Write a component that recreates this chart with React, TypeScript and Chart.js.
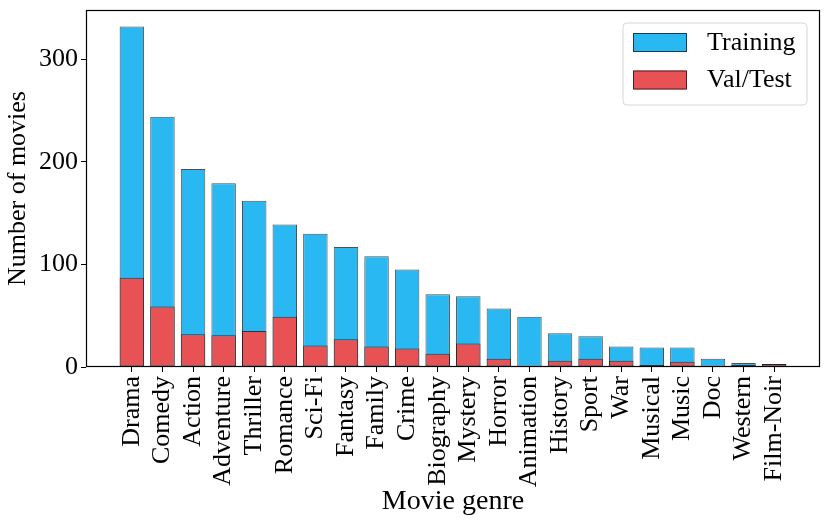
import React, { useEffect, useRef } from "react";
import { Chart, registerables } from "chart.js";

Chart.register(...registerables);

const genres = [
  "Drama", "Comedy", "Action", "Adventure", "Thriller", "Romance", "Sci-Fi",
  "Fantasy", "Family", "Crime", "Biography", "Mystery", "Horror", "Animation",
  "History", "Sport", "War", "Musical", "Music", "Doc", "Western", "Film-Noir",
];
const trainingCounts = [332, 244, 193, 179, 162, 139, 130, 117, 108, 95, 71, 69, 57, 49, 33, 30, 20, 19, 19, 8, 4, 3];
const valTestCounts = [87, 59, 32, 31, 35, 49, 21, 27, 20, 18, 13, 23, 8, 1, 6, 8, 6, 2, 5, 1, 2, 3];
const yTickValues = [0, 100, 200, 300];
const seriesLabels = ["Training", "Val/Test"];

const FONT = "'Liberation Serif', 'Times New Roman', serif";
const BLUE = "#29B8F2";
const RED = "#E85254";
const EDGE = "rgba(20,20,20,0.75)";

const framePlugin = {
  id: "frame",
  afterDatasetsDraw(chart: any) {
    const { ctx, chartArea } = chart;
    ctx.save();
    ctx.strokeStyle = "#000";
    ctx.lineWidth = 1.2;
    ctx.strokeRect(
      Math.round(chartArea.left) + 0.5,
      Math.round(chartArea.top) + 0.5,
      Math.round(chartArea.right - chartArea.left) - 1,
      Math.round(chartArea.bottom - chartArea.top) - 1
    );
    ctx.restore();
  },
};

const legendPlugin = {
  id: "boxLegend",
  afterDraw(chart: any) {
    const { ctx, chartArea } = chart;
    const w = 184, h = 82;
    const x = chartArea.right - 13 - w;
    const y = chartArea.top + 13;
    ctx.save();
    const r = 4;
    ctx.beginPath();
    ctx.moveTo(x + r, y);
    ctx.arcTo(x + w, y, x + w, y + h, r);
    ctx.arcTo(x + w, y + h, x, y + h, r);
    ctx.arcTo(x, y + h, x, y, r);
    ctx.arcTo(x, y, x + w, y, r);
    ctx.closePath();
    ctx.fillStyle = "rgba(255,255,255,0.8)";
    ctx.fill();
    ctx.strokeStyle = "#d6d6d6";
    ctx.lineWidth = 1;
    ctx.stroke();
    chart.data.datasets.forEach((ds: any, i: number) => {
      const sy = y + 10 + i * 37.5;
      ctx.fillStyle = ds.backgroundColor;
      ctx.fillRect(x + 10, sy, 54, 19);
      ctx.strokeStyle = EDGE;
      ctx.strokeRect(x + 10.5, sy + 0.5, 53, 18);
      ctx.fillStyle = "#000";
      ctx.font = `26px ${FONT}`;
      ctx.textBaseline = "middle";
      ctx.textAlign = "left";
      ctx.fillText(ds.label, x + 84, sy + 10);
    });
    ctx.restore();
  },
};

export default function App() {
  const canvasRef = useRef<HTMLCanvasElement | null>(null);

  useEffect(() => {
    document.body.style.margin = "0";
    const canvas = canvasRef.current;
    if (!canvas) return;
    const chart = new Chart(canvas, {
      type: "bar",
      data: {
        datasets: [
          {
            label: seriesLabels[0],
            data: trainingCounts.map((v, i) => ({ x: i, y: v })),
            backgroundColor: BLUE,
            borderColor: EDGE,
            borderWidth: 1,
            borderSkipped: false,
            grouped: false,
            order: 1,
            categoryPercentage: 0.8,
            barPercentage: 1,
          } as any,
          {
            label: seriesLabels[1],
            data: valTestCounts.map((v, i) => ({ x: i, y: v })),
            backgroundColor: RED,
            borderColor: EDGE,
            borderWidth: 1,
            borderSkipped: false,
            grouped: false,
            order: 0,
            categoryPercentage: 0.8,
            barPercentage: 1,
          } as any,
        ],
      },
      options: {
        animation: false,
        responsive: false,
        maintainAspectRatio: false,
        devicePixelRatio: 1,
        layout: { padding: { top: 10, right: 10, left: 0, bottom: 0 } },
        plugins: {
          legend: { display: false },
          tooltip: { enabled: false },
        },
        scales: {
          x: {
            type: "linear",
            offset: false,
            min: -1.5,
            max: 22.5,
            afterBuildTicks: (scale: any) => {
              scale.ticks = genres.map((_, i) => ({ value: i }));
            },
            afterFit: (scale: any) => {
              scale.height = 159;
              scale.paddingLeft = 0;
              scale.paddingRight = 0;
            },
            ticks: {
              autoSkip: false,
              minRotation: 90,
              maxRotation: 90,
              padding: 4,
              color: "#000",
              font: { family: FONT, size: 26 },
              callback: (value: any) => genres[value as number] ?? "",
            },
            grid: { offset: false, drawOnChartArea: false, tickLength: 5, tickColor: "#000", color: "#000" },
            border: { display: false },
            title: {
              display: true,
              text: "Movie genre",
              color: "#000",
              font: { family: FONT, size: 28 },
              padding: { top: 0, bottom: 8 },
            },
          },
          y: {
            min: 0,
            max: 348,
            afterBuildTicks: (scale: any) => {
              scale.ticks = yTickValues.map((v) => ({ value: v }));
            },
            afterFit: (scale: any) => {
              scale.width = 86;
              scale.paddingTop = 0;
              scale.paddingBottom = 0;
            },
            ticks: {
              padding: 3,
              color: "#000",
              font: { family: FONT, size: 26 },
            },
            grid: { drawOnChartArea: false, tickLength: 5, tickColor: "#000", color: "#000" },
            border: { display: false },
            title: {
              display: true,
              text: "Number of movies",
              color: "#000",
              font: { family: FONT, size: 26 },
              padding: { top: 3, bottom: 0 },
            },
          },
        },
      } as any,
      plugins: [framePlugin, legendPlugin],
    });
    return () => chart.destroy();
  }, []);

  return (
    <div style={{ width: 830, height: 526, background: "#fff" }}>
      <canvas ref={canvasRef} width={830} height={526} style={{ display: "block", width: 830, height: 526 }} />
    </div>
  );
}
